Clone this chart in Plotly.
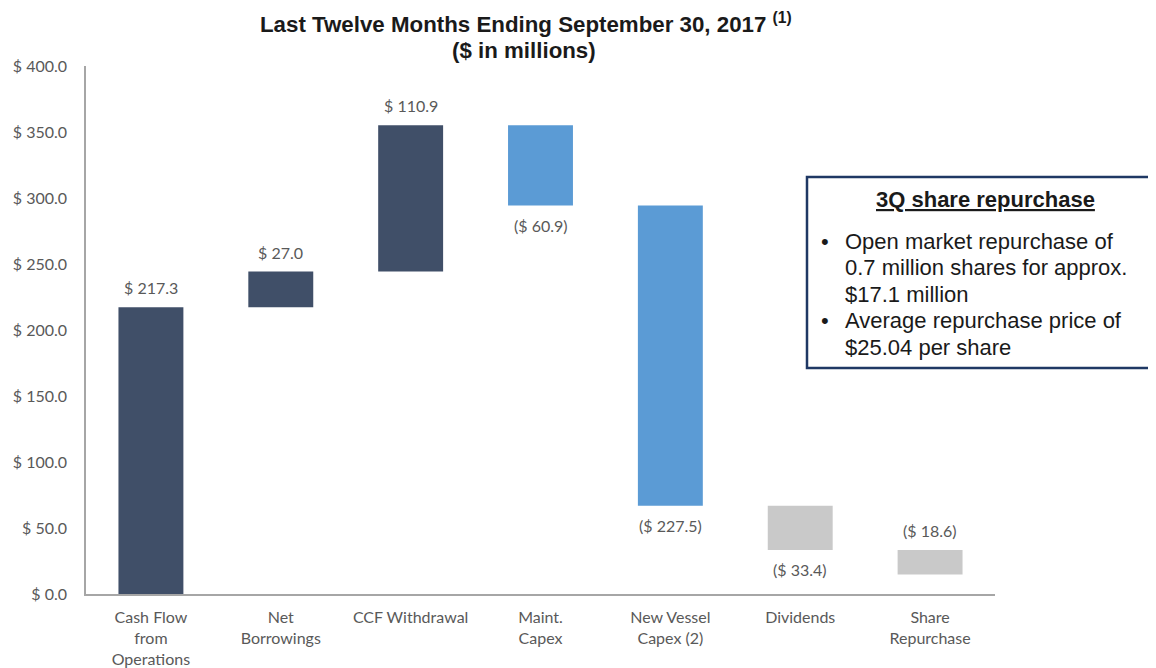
import numpy as np
import plotly.graph_objects as go

# data
categories = ["Cash Flow<br>from<br>Operations", "Net<br>Borrowings", "CCF Withdrawal",
              "Maint.<br>Capex", "New Vessel<br>Capex (2)", "Dividends", "Share<br>Repurchase"]
changes = [217.3, 27.0, 110.9, -60.9, -227.5, -33.4, -18.6]
bar_colors = ["#404f68", "#404f68", "#404f68", "#5b9bd5", "#5b9bd5", "#c9c9c9", "#c9c9c9"]
label_above = [True, True, True, False, False, False, True]
y_ticks = [0, 50, 100, 150, 200, 250, 300, 350, 400]
box_lines = ["Open market repurchase of", "0.7 million shares for approx.", "$17.1 million",
             "Average repurchase price of", "$25.04 per share"]
box_bullets = [True, False, False, True, False]

vals = np.array(changes)
ends = np.cumsum(vals)
starts = ends - vals
lows = np.minimum(starts, ends)
highs = np.maximum(starts, ends)

lab_font = dict(family="Lato, sans-serif", size=16, color="#595959")

fig = go.Figure()
fig.add_trace(go.Bar(
    x=categories, y=highs - lows, base=lows,
    marker=dict(color=bar_colors, line=dict(width=0)),
    width=0.5, hoverinfo="skip"
))


def fmt(v):
    return "$ {:.1f}".format(v) if v >= 0 else "($ {:.1f})".format(-v)


for cat, v, lo, hi, up in zip(categories, changes, lows, highs, label_above):
    fig.add_annotation(
        x=cat, y=hi if up else lo, text=fmt(v), showarrow=False,
        yanchor="bottom" if up else "top", yshift=8 if up else -8,
        font=lab_font
    )

# page-pixel helpers (plot area spans x 86..995, y 66..594 on the page)
px = lambda p: (p - 86) / 909
py = lambda p: (594 - p) / 528

# title
title_font = dict(family="Liberation Sans, Arial, sans-serif", size=22.3, color="#1a1a1a")
fig.add_annotation(xref="paper", yref="paper", x=px(526), y=py(23), showarrow=False,
                   xanchor="center", yanchor="middle", font=title_font,
                   text="<b>Last Twelve Months Ending September 30, 2017 <sup>(1)</sup></b>")
fig.add_annotation(xref="paper", yref="paper", x=px(524), y=py(50), showarrow=False,
                   xanchor="center", yanchor="middle", font=title_font,
                   text="<b>($ in millions)</b>")

# text box
fig.add_shape(type="rect", xref="paper", yref="paper",
              x0=px(807), x1=px(1170), y0=py(368), y1=py(177),
              line=dict(color="#1f3864", width=2.5), fillcolor="white")
box_font = dict(family="Liberation Sans, Arial, sans-serif", size=22, color="#1a1a1a")
fig.add_annotation(xref="paper", yref="paper", x=px(985), y=py(199), showarrow=False,
                   xanchor="center", yanchor="middle",
                   text="<b><u>3Q share repurchase</u></b>", font=box_font)
for i, (line, bul) in enumerate(zip(box_lines, box_bullets)):
    yy = py(241 + i * 26.5)
    fig.add_annotation(xref="paper", yref="paper", x=px(843), y=yy, showarrow=False,
                       xanchor="left", yanchor="middle", text=line, font=box_font)
    if bul:
        fig.add_annotation(xref="paper", yref="paper", x=px(825), y=yy, showarrow=False,
                           xanchor="center", yanchor="middle", text="•", font=box_font)

fig.update_layout(
    width=1156, height=668,
    margin=dict(l=78, r=169, t=58, b=82),
    plot_bgcolor="white", paper_bgcolor="white",
    showlegend=False,
    xaxis=dict(showline=True, linecolor="#a6a6a6", linewidth=1.5, ticks="",
               automargin=False, ticklabelstandoff=8, tickfont=lab_font),
    yaxis=dict(range=[0, 400], tickvals=y_ticks,
               ticktext=["$ {:.1f}".format(t) for t in y_ticks],
               showline=True, linecolor="#a6a6a6", linewidth=1.5, showgrid=False,
               zeroline=False, ticks="", automargin=False, ticklabelstandoff=14,
               tickfont=lab_font)
)

fig.write_html("out.html")
